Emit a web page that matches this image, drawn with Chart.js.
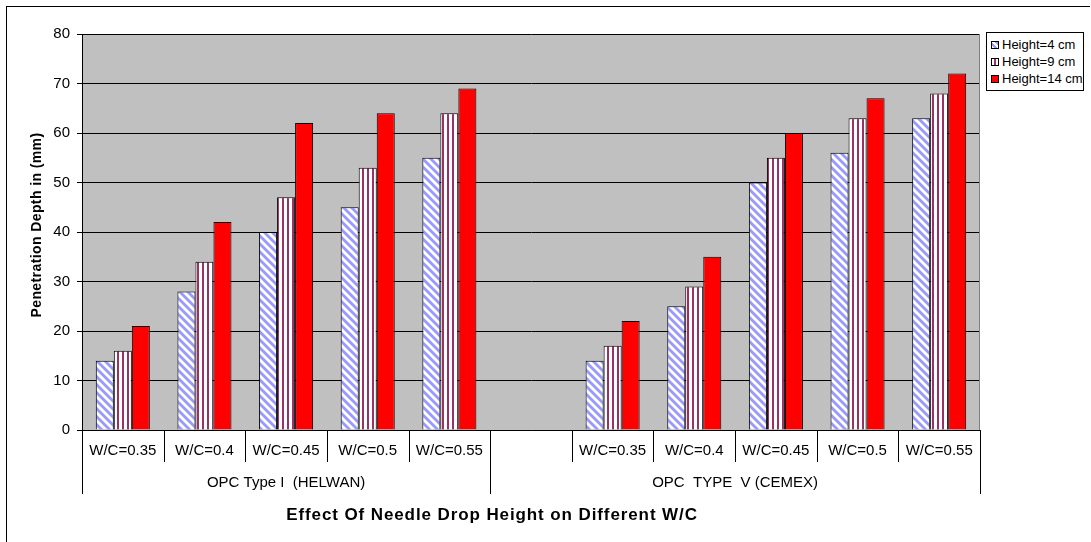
<!DOCTYPE html>
<html>
<head>
<meta charset="utf-8">
<script src="https://cdn.jsdelivr.net/npm/chart.js@4.4.1/dist/chart.umd.min.js"></script>
<style>
  html, body { margin: 0; padding: 0; background: #fff; }
  #wrap { position: relative; width: 1091px; height: 542px; overflow: hidden; background: #fff; }
  #frame { position: absolute; left: 6px; top: 6px; width: 1084px; height: 600px;
           border-top: 1px solid #000; border-left: 1px solid #000; box-sizing: border-box; }
  #chart { position: absolute; left: 0; top: 0; }
  #legend { position: absolute; left: 986px; top: 32px; width: 98px; height: 59px;
            border: 1px solid #000; background: #fff; box-sizing: border-box;
            font: 13px "Liberation Sans", Arial, sans-serif; color: #000; }
  #legend .item { position: absolute; left: 4px; height: 16px; line-height: 16px; white-space: nowrap; }
  #legend .sw { display: inline-block; width: 6px; height: 6px; border: 1px solid #000;
                vertical-align: middle; margin-right: 3px; position: relative; top: -1px; }
</style>
</head>
<body>
<div id="wrap">
  <div id="frame"></div>
  <canvas id="chart" width="1091" height="542"></canvas>
  <div id="legend"></div>
</div>
<script>
// Category labels: two cement groups of water/cement ratios, with a blank slot between them
const categories = ['W/C=0.35', 'W/C=0.4', 'W/C=0.45', 'W/C=0.5', 'W/C=0.55',
                    '', 'W/C=0.35', 'W/C=0.4', 'W/C=0.45', 'W/C=0.5', 'W/C=0.55'];
const groupNames = ['OPC Type I  (HELWAN)', 'OPC  TYPE  V (CEMEX)'];
const groupSizes = [5, 6];

// Penetration depth (mm) for each needle drop height
const seriesNames = ['Height=4 cm', 'Height=9 cm', 'Height=14 cm'];
const height4  = [14, 28, 40, 45, 55, null, 14, 25, 50, 56, 63];
const height9  = [16, 34, 47, 53, 64, null, 17, 29, 55, 63, 68];
const height14 = [21, 42, 62, 64, 69, null, 22, 35, 60, 67, 72];

const yMin = 0, yMax = 80, yStep = 10;
const yTitle = 'Penetration Depth in (mm)';
const xTitle = 'Effect Of Needle Drop Height on Different W/C';

const FONT = '"Liberation Sans", Arial, sans-serif';

function diagonalPattern() {
  const c = document.createElement('canvas');
  c.width = 8; c.height = 8;
  const g = c.getContext('2d');
  g.fillStyle = '#ffffff'; g.fillRect(0, 0, 8, 8);
  g.strokeStyle = '#9999ff'; g.lineWidth = 2.8;
  for (const k of [-8, 0, 8]) {
    g.beginPath(); g.moveTo(k - 1, -1); g.lineTo(k + 9, 9); g.stroke();
  }
  return g.createPattern(c, 'repeat');
}
function verticalPattern() {
  const c = document.createElement('canvas');
  c.width = 5; c.height = 4;
  const g = c.getContext('2d');
  g.fillStyle = '#ffffff'; g.fillRect(0, 0, 5, 4);
  g.fillStyle = '#993366'; g.fillRect(2, 0, 2, 4);
  return g.createPattern(c, 'repeat');
}

const fills = [diagonalPattern(), verticalPattern(), '#ff0000'];

// Grey plot area, frame line on the right
const plotBackground = {
  id: 'plotBackground',
  beforeDraw(chart) {
    const { ctx, chartArea: a } = chart;
    ctx.save();
    ctx.fillStyle = '#c0c0c0';
    ctx.fillRect(a.left, a.top, a.right - a.left, a.bottom - a.top);
    ctx.restore();
  },
  afterDraw(chart) {
    const { ctx, chartArea: a } = chart;
    ctx.save();
    ctx.strokeStyle = '#808080'; ctx.lineWidth = 1;
    ctx.beginPath(); ctx.moveTo(Math.round(a.right) - 0.5, a.top); ctx.lineTo(Math.round(a.right) - 0.5, a.bottom); ctx.stroke();
    ctx.restore();
  }
};

// Two-level category axis: dividers, group names, and both axis titles
const categoryAxis = {
  id: 'categoryAxis',
  afterDraw(chart) {
    const { ctx, chartArea: a } = chart;
    const n = categories.length;
    const w = (a.right - a.left) / n;
    const groupEdges = [0];
    groupSizes.forEach(s => groupEdges.push(groupEdges[groupEdges.length - 1] + s));
    ctx.save();
    ctx.strokeStyle = '#000'; ctx.lineWidth = 1;
    for (let i = 0; i <= n; i++) {
      const x = Math.round(a.left + i * w) + 0.5;
      const long = groupEdges.includes(i);
      ctx.beginPath();
      ctx.moveTo(x, a.bottom);
      ctx.lineTo(x, a.bottom + (long ? 64 : 32));
      ctx.stroke();
    }
    ctx.fillStyle = '#000';
    ctx.font = '15px ' + FONT;
    ctx.textAlign = 'center'; ctx.textBaseline = 'middle';
    for (let g = 0; g < groupNames.length; g++) {
      const cx = a.left + (groupEdges[g] + groupEdges[g + 1]) / 2 * w;
      ctx.fillText(groupNames[g], cx, a.bottom + 53);
    }
    ctx.font = 'bold 17px ' + FONT;
    ctx.letterSpacing = '0.9px';
    ctx.fillText(xTitle, 492, a.bottom + 85);
    ctx.translate(37, 225);
    ctx.rotate(-Math.PI / 2);
    ctx.font = 'bold 14px ' + FONT;
    ctx.letterSpacing = '0.4px';
    ctx.fillText(yTitle, 0, 0);
    ctx.restore();
  }
};

const datasets = [height4, height9, height14].map((d, i) => ({
  label: seriesNames[i],
  data: d,
  backgroundColor: fills[i],
  borderColor: '#000',
  borderWidth: 1,
  categoryPercentage: 0.662,
  barPercentage: 1.0
}));

new Chart(document.getElementById('chart'), {
  type: 'bar',
  data: { labels: categories, datasets },
  options: {
    responsive: false,
    animation: false,
    events: [],
    layout: { padding: { left: 0, right: 111, top: 34, bottom: 0 } },
    plugins: { legend: { display: false }, tooltip: { enabled: false } },
    scales: {
      x: {
        grid: { display: false, drawTicks: false },
        border: { display: true, color: '#000', width: 1 },
        ticks: { color: '#000', font: { family: FONT, size: 15 }, padding: 12, maxRotation: 0, autoSkip: false },
        afterFit(s) { s.height = 112; }
      },
      y: {
        min: yMin, max: yMax,
        grid: { color: '#000', lineWidth: 1, tickLength: 5, drawTicks: true },
        border: { display: true, color: '#000', width: 1 },
        ticks: { stepSize: yStep, color: '#000', font: { family: FONT, size: 15 }, padding: 7 },
        afterFit(s) { s.width = 82; }
      }
    }
  },
  plugins: [plotBackground, categoryAxis]
});

// Legend box
const legendEl = document.getElementById('legend');
const swatchCss = [
  'background: repeating-linear-gradient(45deg, #fff 0 2px, #9999ff 2px 4px);',
  'background: repeating-linear-gradient(90deg, #fff 0 2px, #993366 2px 4px);',
  'background: #ff0000;'
];
seriesNames.forEach((name, i) => {
  const it = document.createElement('div');
  it.className = 'item';
  it.style.top = (4 + i * 17) + 'px';
  it.innerHTML = '<span class="sw" style="' + swatchCss[i] + '"></span>' + name;
  legendEl.appendChild(it);
});
</script>
</body>
</html>
